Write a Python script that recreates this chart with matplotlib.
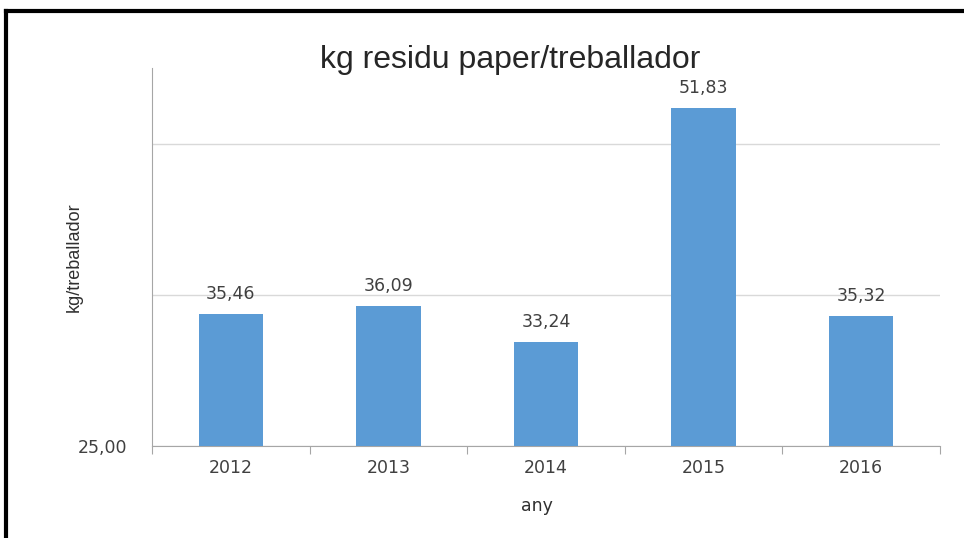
import matplotlib.pyplot as plt
from matplotlib.lines import Line2D

# data
years = ["2012", "2013", "2014", "2015", "2016"]
values = [35.46, 36.09, 33.24, 51.83, 35.32]
grid_values = [25, 37, 49]
y_tick_labels = ["25,00", "", ""]

bar_color = "#5B9BD5"
text_color = "#404040"
axis_color = "#A6A6A6"

plt.rcParams['font.family'] = ['DejaVu Sans']
narrow = ["Liberation Sans Narrow", "Liberation Sans", "DejaVu Sans"]

fig = plt.figure(figsize=(9.64, 5.38), dpi=100)
ax = fig.add_axes([0.1577, 0.171, 0.8173, 0.7026])

x = list(range(len(years)))
bars = ax.bar(x, values, width=0.41, color=bar_color, bottom=0, zorder=3)
ax.set_ylim(25, 55)
ax.set_xlim(-0.5, len(years) - 0.5)

# value labels with comma decimals
for xi, v in zip(x, values):
    ax.text(xi, v + 0.9, f"{v:.2f}".replace(".", ","), ha="center", va="bottom",
            fontsize=12.5, color=text_color)

ax.set_yticks(grid_values)
ax.set_yticklabels(y_tick_labels, fontsize=12.5, color=text_color)
ax.tick_params(axis="y", length=0, pad=18)
ax.yaxis.grid(True, color="#D9D9D9", linewidth=1, zorder=0)

# category labels centered, ticks at the boundaries
ax.set_xticks([i - 0.5 for i in range(len(years) + 1)])
ax.set_xticklabels([])
ax.tick_params(axis="x", length=6, color=axis_color, direction="out")
for xi, yr in zip(x, years):
    ax.text(xi, -0.035, yr, transform=ax.get_xaxis_transform(), ha="center", va="top",
            fontsize=12.5, color=text_color)

for side in ["top", "right"]:
    ax.spines[side].set_visible(False)
ax.spines["left"].set_color(axis_color)
ax.spines["bottom"].set_color(axis_color)

ax.set_xlabel("any", fontsize=12.5, color="#303030", fontweight="medium")
ax.xaxis.set_label_coords(0.488, -0.135)
ax.set_ylabel("kg/treballador", fontsize=13, color="#303030", family=narrow)
ax.yaxis.set_label_coords(-0.088, 0.5)

fig.text(0.529, 0.888, "kg residu paper/treballador", ha="center", va="center",
         fontsize=23, color="#262626", family=narrow)

# border lines of the cropped chart frame
fig.add_artist(Line2D([6 / 964, 1], [1 - 11 / 538, 1 - 11 / 538], color="black", linewidth=3))
fig.add_artist(Line2D([6 / 964, 6 / 964], [0, 1 - 11 / 538], color="black", linewidth=3))

fig.savefig("out.png", dpi=100)
